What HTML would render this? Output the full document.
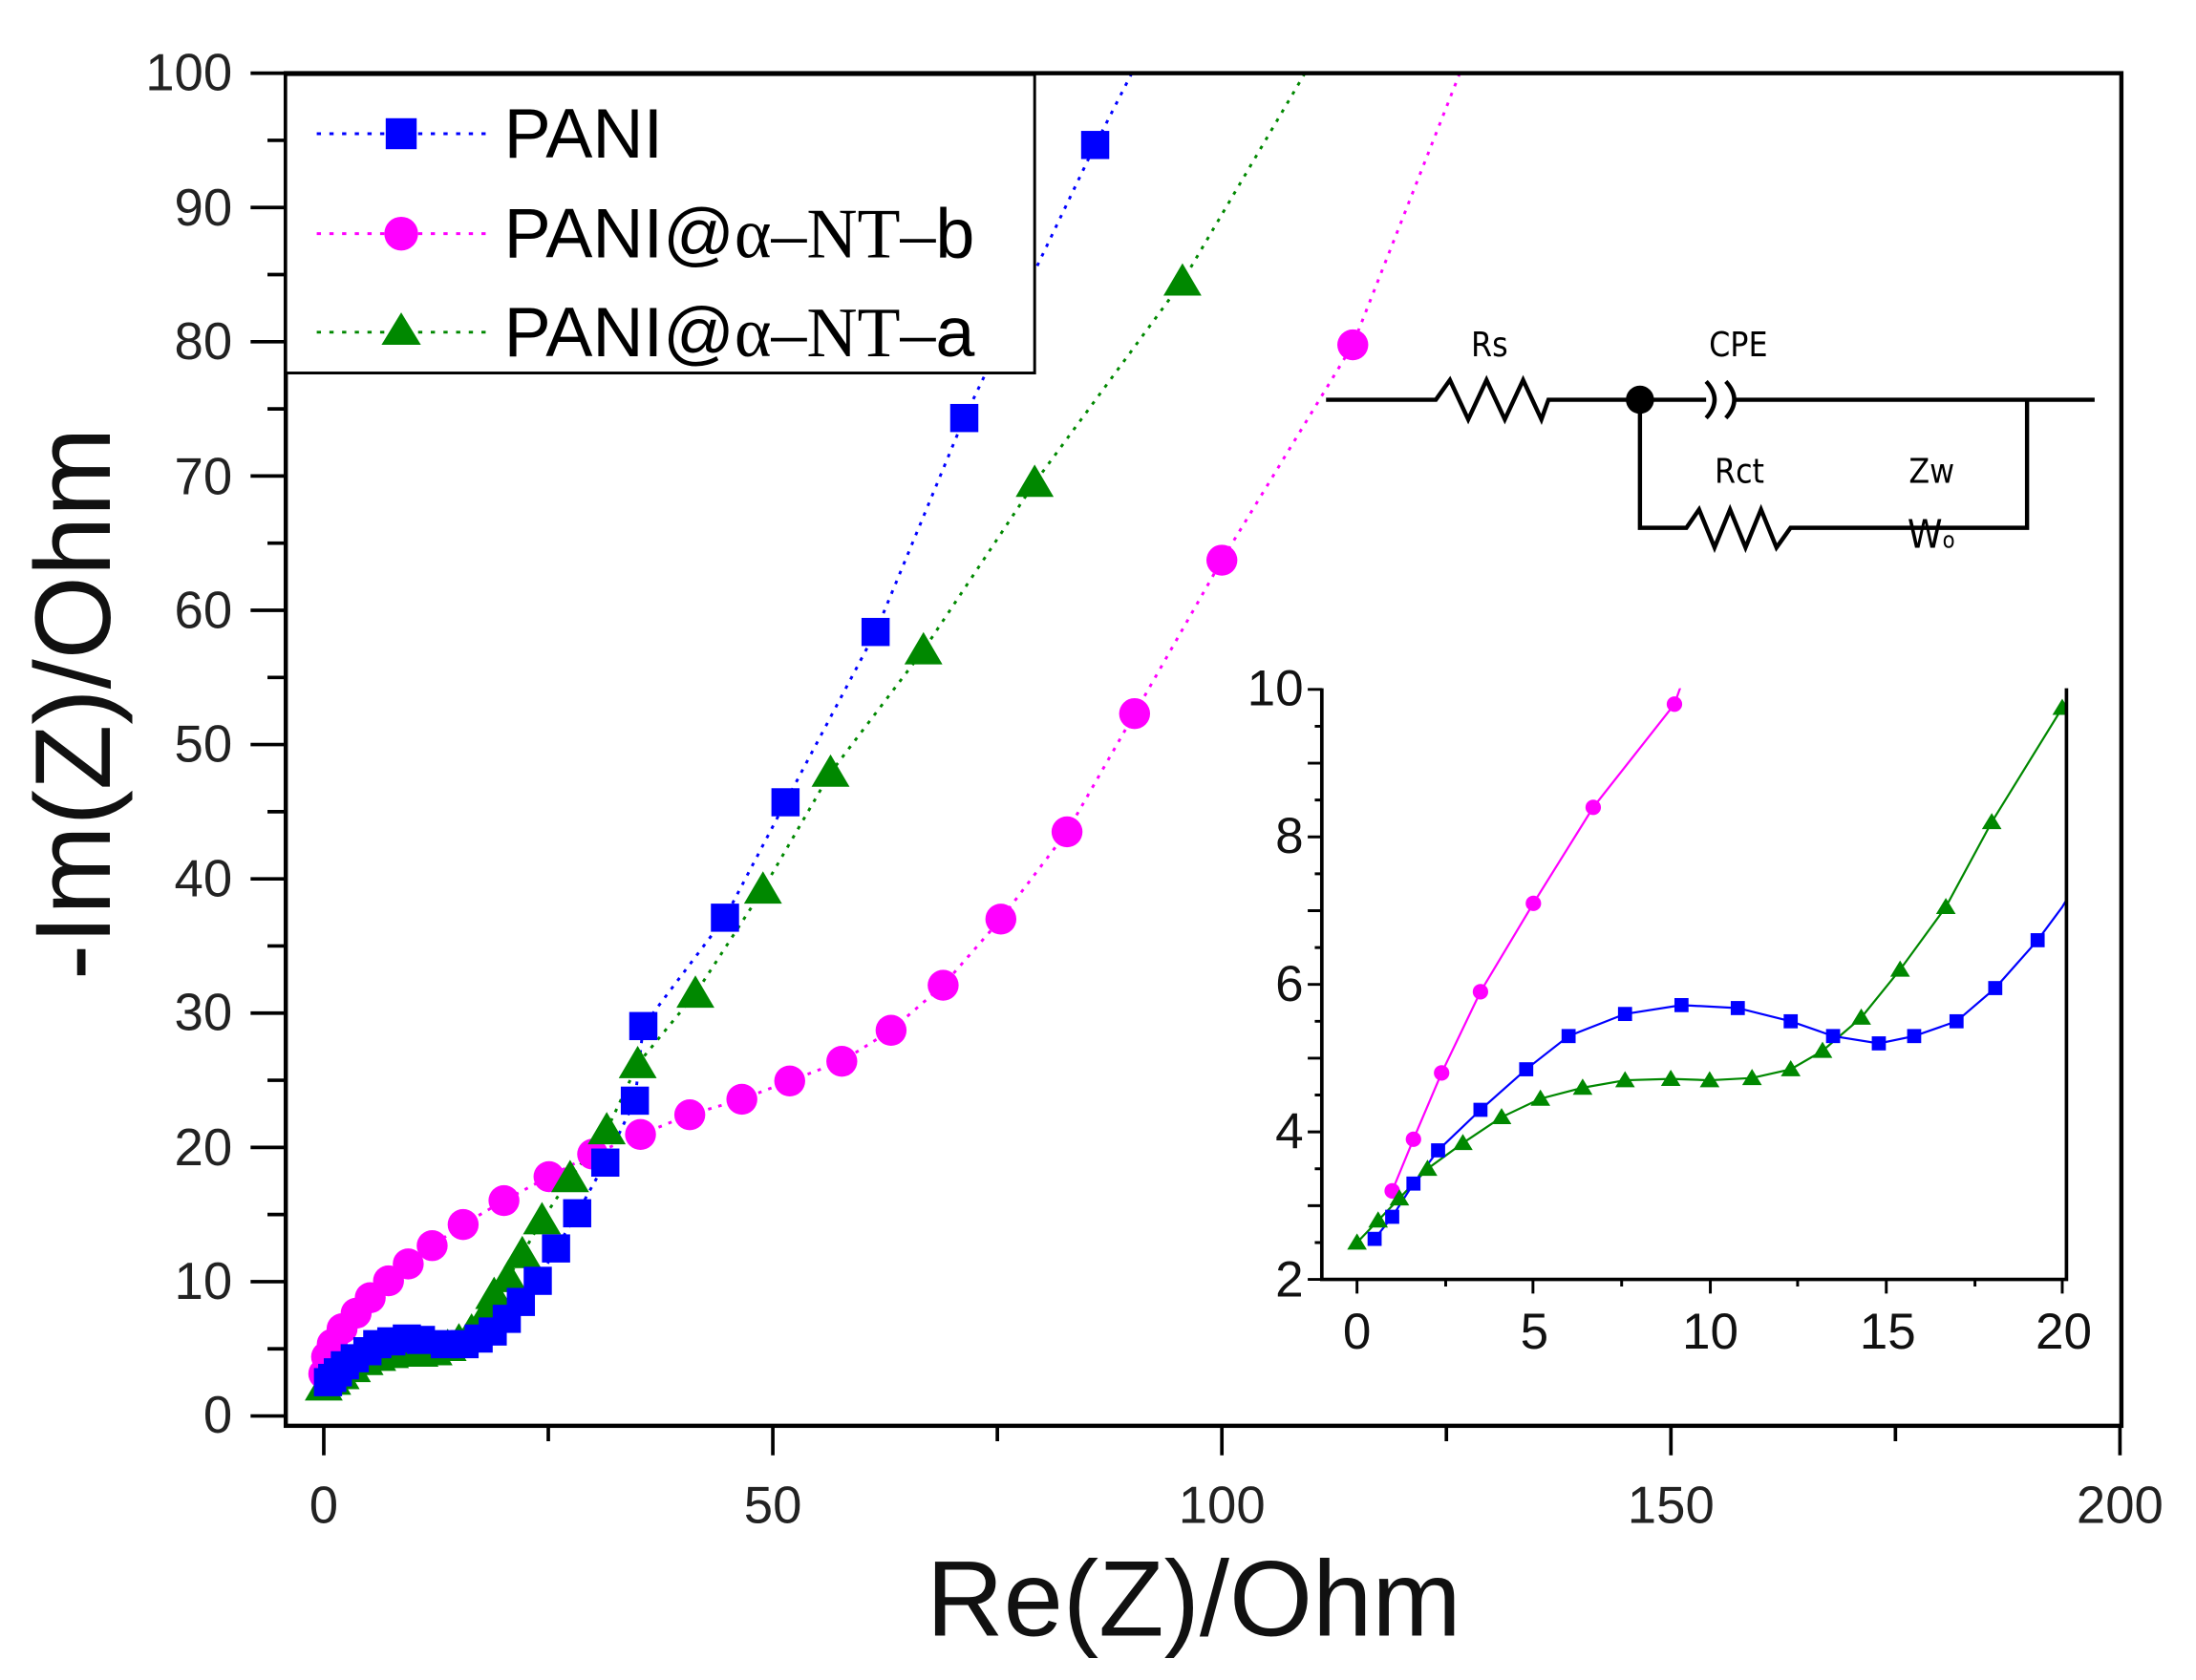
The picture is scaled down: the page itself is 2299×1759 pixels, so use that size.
<!DOCTYPE html>
<html><head><meta charset="utf-8"><style>html,body{margin:0;padding:0;background:#fff}svg{display:block}</style></head>
<body>
<svg width="2299" height="1759" viewBox="0 0 1560 1193.6" xmlns="http://www.w3.org/2000/svg" xmlns:xlink="http://www.w3.org/1999/xlink" font-family="Liberation Sans, Arial, sans-serif">
<defs>
<clipPath id="cm"><rect x="203" y="52" width="1304" height="961"/></clipPath>
<clipPath id="ci"><rect x="939" y="489" width="530" height="421"/></clipPath>
<rect id="bs" x="-10" y="-10" width="20" height="20" fill="#00f"/>
<circle id="pc" r="11" fill="#f0f"/>
<polygon id="gt" points="0,-13 13.5,10 -13.5,10" fill="#080"/>
<rect id="bs2" x="-5" y="-5" width="10" height="10" fill="#00f"/>
<circle id="pc2" r="5.5" fill="#f0f"/>
<polygon id="gt2" points="0,-6.5 7,5 -7,5" fill="#080"/>
</defs>
<g clip-path="url(#cm)">
<g fill="none" stroke-width="2" stroke-dasharray="2.5,5">
<polyline stroke="#f0f" points="1037,52 961,245 868,398 806,507 758,591 711,653 670,700 633,732 598,754 561,768 527,781 490,792 455,806 421,820 390,836 358,853 329,870 307,885 290,898 276,910 263,922 253,933 243,944 236,955 232,964 230,976"/>
<polyline stroke="#080" points="927,52 840,200 735,343 656,462 590,549 542,632 494,706 453,756 431,803 405,837 385,867 371,891 361,908 351,920 345,934 335,946 326,953 318,957 308,960 298,961 288,961 277,962 268,964 259,967 250,972 242,977 236,981 230,985"/>
<polyline stroke="#00f" points="804,52 778,103 685,297 622,449 558,570 515,652 457,729 451,782 430,826 410,862 395,887 382,910 370,925 360,937 350,946 340,951 330,955 324,956 316,955 308,953 299,952 289,951 278,953 268,955 261,960 252,965 245,970 240,975 236,979 233,982"/>
</g>
<g>
<use href="#pc" x="961" y="245"/><use href="#pc" x="868" y="398"/><use href="#pc" x="806" y="507"/><use href="#pc" x="758" y="591"/><use href="#pc" x="711" y="653"/><use href="#pc" x="670" y="700"/><use href="#pc" x="633" y="732"/><use href="#pc" x="598" y="754"/><use href="#pc" x="561" y="768"/><use href="#pc" x="527" y="781"/><use href="#pc" x="490" y="792"/><use href="#pc" x="455" y="806"/><use href="#pc" x="421" y="820"/><use href="#pc" x="390" y="836"/><use href="#pc" x="358" y="853"/><use href="#pc" x="329" y="870"/><use href="#pc" x="307" y="885"/><use href="#pc" x="290" y="898"/><use href="#pc" x="276" y="910"/><use href="#pc" x="263" y="922"/><use href="#pc" x="253" y="933"/><use href="#pc" x="243" y="944"/><use href="#pc" x="236" y="955"/><use href="#pc" x="232" y="964"/><use href="#pc" x="230" y="976"/>
</g>
<g>
<use href="#gt" x="840" y="200"/><use href="#gt" x="735" y="343"/><use href="#gt" x="656" y="462"/><use href="#gt" x="590" y="549"/><use href="#gt" x="542" y="632"/><use href="#gt" x="494" y="706"/><use href="#gt" x="453" y="756"/><use href="#gt" x="431" y="803"/><use href="#gt" x="405" y="837"/><use href="#gt" x="385" y="867"/><use href="#gt" x="371" y="891"/><use href="#gt" x="361" y="908"/><use href="#gt" x="351" y="920"/><use href="#gt" x="345" y="934"/><use href="#gt" x="335" y="946"/><use href="#gt" x="326" y="953"/><use href="#gt" x="318" y="957"/><use href="#gt" x="308" y="960"/><use href="#gt" x="298" y="961"/><use href="#gt" x="288" y="961"/><use href="#gt" x="277" y="962"/><use href="#gt" x="268" y="964"/><use href="#gt" x="259" y="967"/><use href="#gt" x="250" y="972"/><use href="#gt" x="242" y="977"/><use href="#gt" x="236" y="981"/><use href="#gt" x="230" y="985"/>
</g>
<g>
<use href="#bs" x="778" y="103"/><use href="#bs" x="685" y="297"/><use href="#bs" x="622" y="449"/><use href="#bs" x="558" y="570"/><use href="#bs" x="515" y="652"/><use href="#bs" x="457" y="729"/><use href="#bs" x="451" y="782"/><use href="#bs" x="430" y="826"/><use href="#bs" x="410" y="862"/><use href="#bs" x="395" y="887"/><use href="#bs" x="382" y="910"/><use href="#bs" x="370" y="925"/><use href="#bs" x="360" y="937"/><use href="#bs" x="350" y="946"/><use href="#bs" x="340" y="951"/><use href="#bs" x="330" y="955"/><use href="#bs" x="316" y="955"/><use href="#bs" x="299" y="952"/><use href="#bs" x="289" y="951"/><use href="#bs" x="278" y="953"/><use href="#bs" x="268" y="955"/><use href="#bs" x="261" y="960"/><use href="#bs" x="252" y="965"/><use href="#bs" x="245" y="970"/><use href="#bs" x="240" y="975"/><use href="#bs" x="236" y="979"/><use href="#bs" x="233" y="982"/>
</g>
</g>
<rect x="203" y="52" width="1304" height="961" fill="none" stroke="#000" stroke-width="3"/>
<g stroke="#000" stroke-width="2.5">
<path d="M203,1006H178M203,958.3H190M203,910.6H178M203,862.9H190M203,815.2H178M203,767.5H190M203,719.8H178M203,672.1H190M203,624.4H178M203,576.7H190M203,529H178M203,481.3H190M203,433.6H178M203,385.9H190M203,338.2H178M203,290.5H190M203,242.8H178M203,195.1H190M203,147.4H178M203,99.7H190M203,52H178"/>
<path d="M230,1013V1034M389.5,1013V1024M549,1013V1034M708.5,1013V1024M868,1013V1034M1027.5,1013V1024M1187,1013V1034M1346.5,1013V1024M1506,1013V1034"/>
</g>
<g font-size="37" fill="#222" text-anchor="end">
<text x="165" y="1018">0</text><text x="165" y="923">10</text><text x="165" y="828">20</text><text x="165" y="732">30</text><text x="165" y="637">40</text><text x="165" y="541">50</text><text x="165" y="446">60</text><text x="165" y="351">70</text><text x="165" y="255">80</text><text x="165" y="160">90</text><text x="165" y="64">100</text>
</g>
<g font-size="37" fill="#222" text-anchor="middle">
<text x="230" y="1082">0</text><text x="549" y="1082">50</text><text x="868" y="1082">100</text><text x="1187" y="1082">150</text><text x="1506" y="1082">200</text>
</g>
<text x="848" y="1162" font-size="76" text-anchor="middle" fill="#111">Re(Z)/Ohm</text>
<text transform="translate(78,500) rotate(-90)" font-size="76" text-anchor="middle" fill="#111">-Im(Z)/Ohm</text>
<!-- legend -->
<rect x="203" y="53" width="532" height="212" fill="#fff" stroke="#000" stroke-width="2"/>
<line x1="225" y1="95" x2="345" y2="95" stroke="#00f" stroke-width="2" stroke-dasharray="3,6"/>
<rect x="274" y="84" width="22" height="22" fill="#00f"/>
<line x1="225" y1="166" x2="345" y2="166" stroke="#f0f" stroke-width="2" stroke-dasharray="3,6"/>
<circle cx="285" cy="166" r="12" fill="#f0f"/>
<line x1="225" y1="236" x2="345" y2="236" stroke="#080" stroke-width="2" stroke-dasharray="3,6"/>
<polygon points="285,222 299,245 271,245" fill="#080"/>
<g font-size="50" fill="#000">
<text x="358" y="112">PANI</text>
<text x="358" y="183">PANI@<tspan font-family="Liberation Serif, serif">α–NT–</tspan>b</text>
<text x="358" y="253">PANI@<tspan font-family="Liberation Serif, serif">α–NT–</tspan>a</text>
</g>
<!-- circuit -->
<g stroke="#000" stroke-width="3" fill="none">
<polyline points="942,284 1020,284 1030,270 1043,298 1056,270 1069,298 1082,270 1095,298 1100,284 1212,284"/>
<path d="M1212,271 Q1224,284 1212,297 M1226,271 Q1238,284 1226,297"/>
<polyline points="1232,284 1488,284"/>
<polyline points="1165,284 1165,375 1198,375 1207,362 1218,389 1229,362 1240,389 1251,362 1262,389 1272,375 1440,375 1440,284"/>
</g>
<circle cx="1165" cy="284" r="10" fill="#000"/>
<g font-family="DejaVu Sans Condensed, Liberation Sans Narrow, sans-serif" font-size="24" fill="#000">
<text x="1045" y="253">Rs</text><text x="1214" y="253">CPE</text><text x="1218" y="343">Rct</text><text x="1356" y="343">Zw</text><text x="1355" y="389" font-size="28">W<tspan font-size="16">o</tspan></text>
</g>
<!-- inset -->
<rect x="939" y="489" width="529" height="420" fill="#fff"/>
<g clip-path="url(#ci)">
<g fill="none" stroke-width="1.5">
<polyline stroke="#f0f" points="989,846.1 1004.1,809.4 1024.1,762.3 1051.7,704.6 1089.3,641.8 1131.8,573.6 1189.5,500.3 1197,479"/>
<polyline stroke="#080" points="964,882.8 979,867.1 994.1,851.4 1014.1,830.4 1039.2,812.1 1066.7,793.7 1094.3,780.6 1124.3,772.8 1154.4,767.5 1186.9,766.5 1214.5,767.5 1244.6,765.9 1272.1,759.7 1294.7,746.6 1322.2,723 1349.8,688.9 1382.3,644.4 1414.9,584.1 1465,502.9"/>
<polyline stroke="#00f" points="976.5,880.2 989,864.5 1004.1,840.9 1021.6,817.3 1051.7,788.5 1084.2,759.7 1114.3,736.1 1154.4,720.4 1194.5,714.1 1234.5,716.2 1272.1,725.6 1302.2,736.1 1334.7,741.3 1359.8,736.1 1389.9,725.6 1417.4,702 1447.5,668 1465,644.4 1470,636"/>
</g>
<use href="#pc2" x="989" y="846.1"/><use href="#pc2" x="1004.1" y="809.4"/><use href="#pc2" x="1024.1" y="762.3"/><use href="#pc2" x="1051.7" y="704.6"/><use href="#pc2" x="1089.3" y="641.8"/><use href="#pc2" x="1131.8" y="573.6"/><use href="#pc2" x="1189.5" y="500.3"/>
<use href="#gt2" x="964" y="882.8"/><use href="#gt2" x="979" y="867.1"/><use href="#gt2" x="994.1" y="851.4"/><use href="#gt2" x="1014.1" y="830.4"/><use href="#gt2" x="1039.2" y="812.1"/><use href="#gt2" x="1066.7" y="793.7"/><use href="#gt2" x="1094.3" y="780.6"/><use href="#gt2" x="1124.3" y="772.8"/><use href="#gt2" x="1154.4" y="767.5"/><use href="#gt2" x="1186.9" y="766.5"/><use href="#gt2" x="1214.5" y="767.5"/><use href="#gt2" x="1244.6" y="765.9"/><use href="#gt2" x="1272.1" y="759.7"/><use href="#gt2" x="1294.7" y="746.6"/><use href="#gt2" x="1322.2" y="723"/><use href="#gt2" x="1349.8" y="688.9"/><use href="#gt2" x="1382.3" y="644.4"/><use href="#gt2" x="1414.9" y="584.1"/><use href="#gt2" x="1465" y="502.9"/>
<use href="#bs2" x="976.5" y="880.2"/><use href="#bs2" x="989" y="864.5"/><use href="#bs2" x="1004.1" y="840.9"/><use href="#bs2" x="1021.6" y="817.3"/><use href="#bs2" x="1051.7" y="788.5"/><use href="#bs2" x="1084.2" y="759.7"/><use href="#bs2" x="1114.3" y="736.1"/><use href="#bs2" x="1154.4" y="720.4"/><use href="#bs2" x="1194.5" y="714.1"/><use href="#bs2" x="1234.5" y="716.2"/><use href="#bs2" x="1272.1" y="725.6"/><use href="#bs2" x="1302.2" y="736.1"/><use href="#bs2" x="1334.7" y="741.3"/><use href="#bs2" x="1359.8" y="736.1"/><use href="#bs2" x="1389.9" y="725.6"/><use href="#bs2" x="1417.4" y="702"/><use href="#bs2" x="1447.5" y="668"/>
</g>
<polyline points="939,489 939,909 1468,909 1468,489" fill="none" stroke="#000" stroke-width="2.5"/>
<g stroke="#000" stroke-width="2">
<path d="M939,909H929M939,882.8H934M939,856.6H929M939,830.4H934M939,804.2H929M939,778H934M939,751.8H929M939,725.6H934M939,699.4H929M939,673.2H934M939,647H929M939,620.8H934M939,594.6H929M939,568.4H934M939,542.2H929M939,516H934M939,489.8H929"/>
<path d="M964,909V919M1027,909V914M1089,909V919M1152,909V914M1215,909V919M1277,909V914M1340,909V919M1403,909V914M1465,909V919"/>
</g>
<g font-size="36" fill="#111" text-anchor="end">
<text x="926" y="921">2</text><text x="926" y="816">4</text><text x="926" y="711">6</text><text x="926" y="606">8</text><text x="926" y="501">10</text>
</g>
<g font-size="36" fill="#111" text-anchor="middle">
<text x="964" y="958">0</text><text x="1090" y="958">5</text><text x="1215" y="958">10</text><text x="1341" y="958">15</text><text x="1466" y="958">20</text>
</g>
</svg>
</body></html>
